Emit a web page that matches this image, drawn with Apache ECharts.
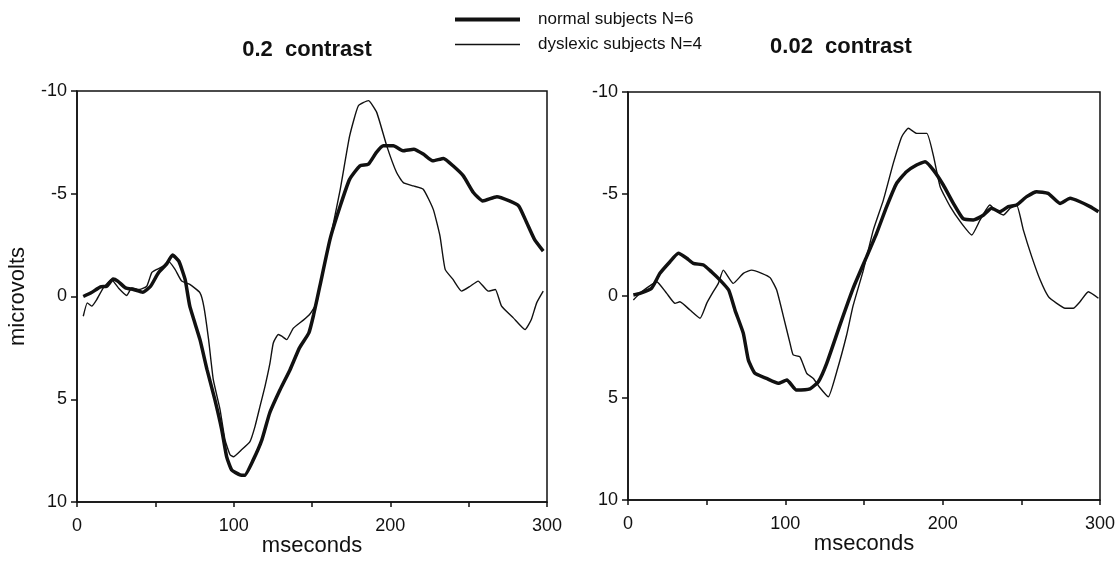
<!DOCTYPE html>
<html>
<head>
<meta charset="utf-8">
<script src="https://cdn.jsdelivr.net/npm/echarts@6/dist/echarts.min.js"></script>
<style>
html,body{margin:0;padding:0;background:#fff;}
#chart{width:1120px;height:563px;}
</style>
</head>
<body>
<div id="chart"></div>
<script>
// ---- data (time in ms, amplitude in microvolts; negative up) ----
const panelTitles = ['0.2  contrast', '0.02  contrast'];
const seriesNames = ['normal subjects N=6', 'dyslexic subjects N=4'];
const xTicks = [0, 100, 200, 300];
const yTicks = [-10, -5, 0, 5, 10];

const leftNormal = [[4,0],[9,-0.18],[15,-0.47],[19,-0.5],[23,-0.85],[26,-0.75],[31,-0.42],[36,-0.34],[42,-0.21],[47,-0.5],[52,-1.16],[57,-1.56],[61,-2.02],[65,-1.72],[69,-0.83],[72,0.47],[78.5,2.1],[83,3.56],[88,5.02],[92.4,6.49],[95.5,7.79],[98.7,8.44],[104,8.68],[107,8.7],[112.5,7.95],[118,6.98],[123,5.67],[129.6,4.54],[136,3.56],[142,2.5],[148,1.77],[151,0.9],[155,-0.5],[161.5,-2.78],[168,-4.4],[174,-5.7],[180.6,-6.36],[186,-6.44],[191,-7.0],[195.5,-7.33],[202,-7.33],[208,-7.09],[215,-7.17],[221,-6.93],[227,-6.6],[234,-6.72],[240,-6.36],[246.6,-5.87],[253,-5.06],[259,-4.65],[268,-4.86],[276,-4.65],[282,-4.4],[287,-3.6],[292,-2.78],[297.6,-2.21]];

const leftDyslexic = [[4,0.96],[6.6,0.31],[9.4,0.47],[12.6,0.15],[16.8,-0.42],[22,-0.83],[26.4,-0.42],[31.7,-0.05],[35,-0.42],[40,-0.34],[44.5,-0.5],[47.7,-1.16],[51,-1.32],[55,-1.48],[58.3,-1.72],[62.6,-1.32],[66.8,-0.75],[72,-0.59],[78.5,-0.18],[81,0.5],[84,2.1],[87,4.05],[91.3,5.5],[94.5,6.98],[97.7,7.7],[99.8,7.8],[105,7.46],[110.4,7.06],[113.6,6.33],[116.8,5.35],[120,4.37],[123.2,3.23],[125.3,2.26],[128.5,1.85],[130.7,1.93],[133.8,2.1],[138,1.55],[144.5,1.15],[148.7,0.85],[153,0.31],[155,-0.5],[161.5,-2.78],[168,-5.2],[174,-7.8],[179.6,-9.28],[186,-9.53],[191.3,-8.96],[197.7,-7.33],[204,-6.03],[208.3,-5.54],[214.7,-5.38],[221,-5.22],[227.4,-4.24],[231.7,-2.94],[235,-1.32],[240,-0.83],[245.5,-0.26],[251,-0.5],[256,-0.75],[262.5,-0.26],[267,-0.34],[271,0.47],[278.5,1.04],[286,1.61],[290,1.12],[293.4,0.31],[297.6,-0.26]];

const rightNormal = [[3.4,-0.05],[7.6,-0.13],[15,-0.38],[20.3,-1.11],[26.7,-1.68],[32,-2.09],[37.3,-1.85],[41.5,-1.6],[48,-1.52],[53,-1.19],[58.5,-0.78],[64,-0.29],[68,0.69],[73.3,1.83],[76.5,3.14],[80.7,3.79],[88,4.04],[95.5,4.28],[101,4.12],[107,4.61],[115.7,4.55],[121,4.2],[126.3,3.3],[134.8,1.4],[143.2,-0.4],[151.7,-1.93],[158,-3.07],[164.4,-4.38],[170.7,-5.52],[177,-6.09],[183.4,-6.42],[188.8,-6.58],[194,-6.18],[200.4,-5.44],[206.8,-4.54],[213,-3.79],[219.5,-3.73],[226,-3.97],[231,-4.3],[236.4,-4.13],[241.7,-4.38],[247,-4.46],[253.4,-4.87],[259.7,-5.11],[267,-5.03],[274.6,-4.54],[281,-4.79],[287.3,-4.62],[293.7,-4.38],[299,-4.13]];

const rightDyslexic = [[3.4,0.2],[7.6,-0.13],[12,-0.4],[18.2,-0.7],[24.6,-0.13],[29.9,0.36],[33,0.28],[39.4,0.69],[45.8,1.09],[50,0.36],[54.2,-0.21],[57.4,-0.62],[60.6,-1.27],[66.9,-0.62],[73.3,-1.11],[78.6,-1.27],[85,-1.11],[90.3,-0.9],[94.5,-0.29],[98.8,1.01],[103,2.32],[105,2.89],[109.3,2.98],[113.6,3.79],[117.8,4.04],[122,4.5],[127.3,4.94],[132.7,3.7],[139,1.9],[143,0.5],[149.6,-1.27],[155.9,-3.23],[162.3,-4.7],[168.6,-6.5],[174,-7.81],[178.2,-8.22],[183.5,-7.97],[189.9,-7.97],[194.1,-6.88],[198.4,-5.36],[204.8,-4.38],[212,-3.56],[218.5,-2.99],[223.8,-3.73],[230,-4.46],[234.4,-4.13],[238.6,-3.97],[242.9,-4.3],[247,-4.46],[251.3,-3.23],[256.6,-1.93],[262,-0.78],[267.2,0.03],[272.5,0.36],[277.8,0.6],[283,0.6],[287.3,0.28],[292.6,-0.21],[299,0.11]];

// ---- chart ----
const FONT = '"Liberation Sans", Arial, Helvetica, sans-serif';
const INK = '#111';
const chart = echarts.init(document.getElementById('chart'), null, {renderer: 'canvas'});

function xAxisDef(idx) {
  return {
    gridIndex: idx, type: 'value', position: 'bottom', min: 0, max: 300, interval: 50,
    name: 'mseconds', nameLocation: 'middle', nameGap: 33, nameMoveOverlap: false,
    nameTextStyle: {fontFamily: FONT, fontSize: 22, color: INK},
    axisLine: {show: true, onZero: false, lineStyle: {color: INK, width: 1.5}},
    axisTick: {show: true, length: 5, lineStyle: {color: INK, width: 1.5}},
    axisLabel: {
      margin: 15, fontFamily: FONT, fontSize: 18, color: INK,
      formatter: v => (xTicks.indexOf(v) >= 0 ? String(v) : '')
    },
    splitLine: {show: false}
  };
}
function yAxisDef(idx, withName) {
  return {
    gridIndex: idx, type: 'value', position: 'left', inverse: true, min: -10, max: 10, interval: 5,
    name: withName ? 'microvolts' : '', nameLocation: 'middle', nameGap: 48, nameRotate: 90,
    nameMoveOverlap: false,
    nameTextStyle: {fontFamily: FONT, fontSize: 22, color: INK},
    axisLine: {show: true, onZero: false, lineStyle: {color: INK, width: 1.5}},
    axisTick: {show: true, length: 6, lineStyle: {color: INK, width: 1.5}},
    axisLabel: {
      margin: 10, fontFamily: FONT, fontSize: 18, color: INK,
      formatter: v => (yTicks.indexOf(v) >= 0 ? String(v) : '')
    },
    splitLine: {show: false}
  };
}
function lineSeries(name, idx, data, width) {
  return {
    name: name, type: 'line', xAxisIndex: idx, yAxisIndex: idx, data: data,
    showSymbol: false, symbol: 'none', smooth: 0.15, silent: true,
    lineStyle: {color: INK, width: width}, itemStyle: {color: INK},
    animation: false
  };
}

chart.setOption({
  backgroundColor: '#fff',
  animation: false,
  title: [
    {text: panelTitles[0], left: 302, top: 34, textAlign: 'center',
     textStyle: {fontFamily: FONT, fontSize: 22, fontWeight: 'bold', color: INK}},
    {text: panelTitles[1], left: 836, top: 31, textAlign: 'center',
     textStyle: {fontFamily: FONT, fontSize: 22, fontWeight: 'bold', color: INK}}
  ],
  legend: [
    {data: [{name: seriesNames[0], icon: 'rect'}], left: 450, top: 6, itemWidth: 65, itemHeight: 4,
     itemStyle: {color: INK}, selectedMode: false,
     textStyle: {fontFamily: FONT, fontSize: 17, color: INK, padding: [0, 0, 0, 13]}},
    {data: [{name: seriesNames[1], icon: 'rect'}], left: 450, top: 31, itemWidth: 65, itemHeight: 1.5,
     itemStyle: {color: INK}, selectedMode: false,
     textStyle: {fontFamily: FONT, fontSize: 17, color: INK, padding: [0, 0, 0, 13]}}
  ],
  grid: [
    {left: 77, top: 91, width: 470, height: 411, outerBoundsMode: 'none', containLabel: false,
     show: true, borderColor: INK, borderWidth: 1.5, backgroundColor: 'transparent'},
    {left: 628, top: 92, width: 472, height: 408, outerBoundsMode: 'none', containLabel: false,
     show: true, borderColor: INK, borderWidth: 1.5, backgroundColor: 'transparent'}
  ],
  xAxis: [xAxisDef(0), xAxisDef(1)],
  yAxis: [yAxisDef(0, true), yAxisDef(1, false)],
  series: [
    lineSeries(seriesNames[0], 0, leftNormal, 3.5),
    lineSeries(seriesNames[1], 0, leftDyslexic, 1.4),
    lineSeries(seriesNames[0], 1, rightNormal, 3.5),
    lineSeries(seriesNames[1], 1, rightDyslexic, 1.4)
  ]
});
</script>
</body>
</html>
